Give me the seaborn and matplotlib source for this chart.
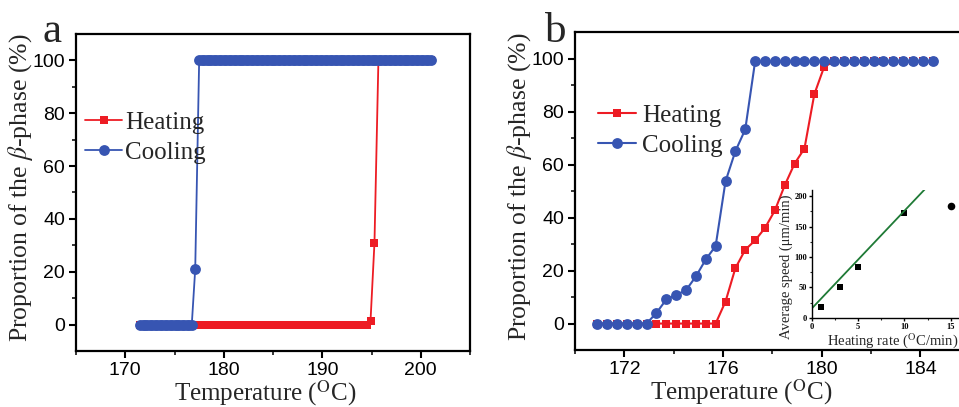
import matplotlib
matplotlib.use("Agg")
import matplotlib.pyplot as plt
import seaborn as sns

# ---- panel a: full sweep, dense sampling ----
heat_a_temp = [171.5, 171.75, 172.0, 172.25, 172.5, 172.75, 173.0, 173.25,
               173.5, 173.75, 174.0, 174.25, 174.5, 174.75, 175.0, 175.25,
               175.5, 175.75, 176.0, 176.25, 176.5, 176.75, 177.0, 177.25,
               177.5, 177.75, 178.0, 178.25, 178.5, 178.75, 179.0, 179.25,
               179.5, 179.75, 180.0, 180.25, 180.5, 180.75, 181.0, 181.25,
               181.5, 181.75, 182.0, 182.25, 182.5, 182.75, 183.0, 183.25,
               183.5, 183.75, 184.0, 184.25, 184.5, 184.75, 185.0, 185.25,
               185.5, 185.75, 186.0, 186.25, 186.5, 186.75, 187.0, 187.25,
               187.5, 187.75, 188.0, 188.25, 188.5, 188.75, 189.0, 189.25,
               189.5, 189.75, 190.0, 190.25, 190.5, 190.75, 191.0, 191.25,
               191.5, 191.75, 192.0, 192.25, 192.5, 192.75, 193.0, 193.25,
               193.5, 193.75, 194.0, 194.25, 194.5,
               194.9, 195.3, 195.7,
               196.0, 196.25, 196.5, 196.75, 197.0, 197.25, 197.5, 197.75,
               198.0, 198.25, 198.5, 198.75, 199.0, 199.25, 199.5, 199.75,
               200.0, 200.25, 200.5, 200.75, 201.0]
heat_a_pct = [0, 0, 0, 0, 0, 0, 0, 0, 0, 0,
              0, 0, 0, 0, 0, 0, 0, 0, 0, 0,
              0, 0, 0, 0, 0, 0, 0, 0, 0, 0,
              0, 0, 0, 0, 0, 0, 0, 0, 0, 0,
              0, 0, 0, 0, 0, 0, 0, 0, 0, 0,
              0, 0, 0, 0, 0, 0, 0, 0, 0, 0,
              0, 0, 0, 0, 0, 0, 0, 0, 0, 0,
              0, 0, 0, 0, 0, 0, 0, 0, 0, 0,
              0, 0, 0, 0, 0, 0, 0, 0, 0, 0,
              0, 0, 0,
              1.5, 31, 100,
              100, 100, 100, 100, 100, 100, 100, 100, 100, 100,
              100, 100, 100, 100, 100, 100, 100, 100, 100, 100,
              100]

cool_a_temp = [171.5, 171.75, 172.0, 172.25, 172.5, 172.75, 173.0, 173.25,
               173.5, 173.75, 174.0, 174.25, 174.5, 174.75, 175.0, 175.25,
               175.5, 175.75, 176.0, 176.25, 176.5, 176.75,
               177.1, 177.5,
               177.75, 178.0, 178.25, 178.5, 178.75, 179.0, 179.25, 179.5,
               179.75, 180.0, 180.25, 180.5, 180.75, 181.0, 181.25, 181.5,
               181.75, 182.0, 182.25, 182.5, 182.75, 183.0, 183.25, 183.5,
               183.75, 184.0, 184.25, 184.5, 184.75, 185.0, 185.25, 185.5,
               185.75, 186.0, 186.25, 186.5, 186.75, 187.0, 187.25, 187.5,
               187.75, 188.0, 188.25, 188.5, 188.75, 189.0, 189.25, 189.5,
               189.75, 190.0, 190.25, 190.5, 190.75, 191.0, 191.25, 191.5,
               191.75, 192.0, 192.25, 192.5, 192.75, 193.0, 193.25, 193.5,
               193.75, 194.0, 194.25, 194.5, 194.75, 195.0, 195.25, 195.5,
               195.75, 196.0, 196.25, 196.5, 196.75, 197.0, 197.25, 197.5,
               197.75, 198.0, 198.25, 198.5, 198.75, 199.0, 199.25, 199.5,
               199.75, 200.0, 200.25, 200.5, 200.75, 201.0]
cool_a_pct = [0, 0, 0, 0, 0, 0, 0, 0, 0, 0,
              0, 0, 0, 0, 0, 0, 0, 0, 0, 0,
              0, 0,
              21,
              100, 100, 100, 100, 100, 100, 100, 100, 100, 100,
              100, 100, 100, 100, 100, 100, 100, 100, 100, 100,
              100, 100, 100, 100, 100, 100, 100, 100, 100, 100,
              100, 100, 100, 100, 100, 100, 100, 100, 100, 100,
              100, 100, 100, 100, 100, 100, 100, 100, 100, 100,
              100, 100, 100, 100, 100, 100, 100, 100, 100, 100,
              100, 100, 100, 100, 100, 100, 100, 100, 100, 100,
              100, 100, 100, 100, 100, 100, 100, 100, 100, 100,
              100, 100, 100, 100, 100, 100, 100, 100, 100, 100,
              100, 100, 100, 100, 100]

# ---- panel b: slow sweep ----
temp_b = [170.9, 171.3, 171.7, 172.1, 172.5, 172.9, 173.3, 173.7, 174.1, 174.5,
          174.9, 175.3, 175.7, 176.1, 176.5, 176.9, 177.3, 177.7, 178.1, 178.5,
          178.9, 179.3, 179.7, 180.1, 180.5, 180.9, 181.3, 181.7, 182.1, 182.5,
          182.9, 183.3, 183.7, 184.1, 184.5]
heat_b_pct = [0, 0, 0, 0, 0, 0, 0, 0, 0, 0,
              0, 0, 0, 8.3, 20.9, 27.9, 31.4, 36.1, 42.7, 52.2,
              60.4, 66.1, 86.6, 97.0, 99, 99, 99, 99, 99, 99,
              99, 99, 99, 99, 99]
cool_b_pct = [0, 0, 0, 0, 0, 0, 4.0, 9.1, 10.8, 12.6,
              17.8, 24.2, 29.3, 53.7, 65.1, 73.3, 99, 99, 99, 99,
              99, 99, 99, 99, 99, 99, 99, 99, 99, 99,
              99, 99, 99, 99, 99]

# ---- inset: growth speed vs heating rate ----
rate = [1, 3, 5, 10]
speed = [18, 50, 84, 172]
rate_out = [15]
speed_out = [184]
fit_rate = [0, 13]
fit_speed = [15, 224]

RED = "#ED1C24"
BLUE = "#3755B2"
GREEN = "#1F7A36"

sns.set_theme(style="ticks")
plt.rcParams["font.family"] = ["Liberation Sans", "DejaVu Sans"]
plt.rcParams["mathtext.fontset"] = "stix"
SERIF = ["Liberation Serif", "DejaVu Serif"]

fig = plt.figure(figsize=(9.59, 4.07), dpi=100)
ax_a = fig.add_axes([0.0793, 0.1376, 0.4108, 0.7789])
ax_b = fig.add_axes([0.5996, 0.1400, 0.4116, 0.7806])


def style_main(ax):
    for s in ax.spines.values():
        s.set_linewidth(1.6)
        s.set_color("black")
    ax.tick_params(axis="both", which="major", direction="out", length=5, width=1.5,
                   labelsize=14, colors="black", pad=3)
    ax.tick_params(axis="both", which="minor", direction="out", length=3, width=1.3)
    ax.tick_params(top=False, right=False, which="both")
    ax.set_ylim(-10, 110)
    ax.set_yticks([0, 20, 40, 60, 80, 100])
    ax.set_yticks([10, 30, 50, 70, 90], minor=True)
    ax.set_ylabel(r"Proportion of the $\beta$-phase (%)", family=SERIF, fontsize=18.5)
    ax.set_xlabel(r"Temperature ($^{\rm O}$C)", family=SERIF, fontsize=18, va="top")
    ax.yaxis.set_label_coords(-0.105, 0.515)


# panel a
sns.lineplot(x=heat_a_temp, y=heat_a_pct, ax=ax_a, color=RED, marker="s", markersize=6,
             markeredgewidth=0, linewidth=1.3, label="Heating")
sns.lineplot(x=cool_a_temp, y=cool_a_pct, ax=ax_a, color=BLUE, marker="o", markersize=7.8,
             markeredgewidth=0, linewidth=1.3, label="Cooling")
style_main(ax_a)
ax_a.set_xlim(165, 205)
ax_a.set_xticks([170, 180, 190, 200])
ax_a.set_xticks([165, 175, 185, 195, 205], minor=True)
ax_a.xaxis.set_label_coords(0.48, -0.085)
ax_a.legend(loc="upper left", bbox_to_anchor=(0.0886, 0.726), bbox_transform=fig.transFigure,
            frameon=False, prop={"family": SERIF, "size": 18}, handlelength=1.5,
            handletextpad=0.1, labelspacing=0.28, borderpad=0, borderaxespad=0)

# panel b
sns.lineplot(x=temp_b, y=heat_b_pct, ax=ax_b, color=RED, marker="s", markersize=6.2,
             markeredgewidth=0, linewidth=1.5, label="Heating")
sns.lineplot(x=temp_b, y=cool_b_pct, ax=ax_b, color=BLUE, marker="o", markersize=7.8,
             markeredgewidth=0, linewidth=1.5, label="Cooling")
style_main(ax_b)
ax_b.set_xlim(170, 186)
ax_b.set_xticks([172, 176, 180, 184])
ax_b.set_xticks([170, 174, 178, 182, 186], minor=True)
ax_b.xaxis.set_label_coords(0.42, -0.085)
ax_b.legend(loc="upper left", bbox_to_anchor=(0.6236, 0.743), bbox_transform=fig.transFigure,
            frameon=False, prop={"family": SERIF, "size": 18}, handlelength=1.5,
            handletextpad=0.25, labelspacing=0.28, borderpad=0, borderaxespad=0)

# inset
ins = fig.add_axes([0.8464, 0.2194, 0.1643, 0.3137])
ins.set_facecolor("none")
sns.lineplot(x=fit_rate, y=fit_speed, ax=ins, color=GREEN, linewidth=1.3)
sns.scatterplot(x=rate, y=speed, ax=ins, color="black", marker="s", s=22, linewidth=0)
sns.scatterplot(x=rate_out, y=speed_out, ax=ins, color="black", marker="o", s=30, linewidth=0)
ins.set_xlim(0, 17)
ins.set_ylim(0, 210)
ins.set_xticks([0, 5, 10, 15])
ins.set_xticks([2.5, 7.5, 12.5], minor=True)
ins.set_yticks([0, 50, 100, 150, 200])
ins.set_yticks([25, 75, 125, 175], minor=True)
ins.spines["top"].set_visible(False)
ins.spines["right"].set_visible(False)
for s in ("left", "bottom"):
    ins.spines[s].set_linewidth(1.0)
    ins.spines[s].set_color("black")
ins.tick_params(axis="both", which="major", direction="out", length=2.5, width=1,
                labelsize=6, pad=1, colors="black")
ins.tick_params(axis="both", which="minor", direction="out", length=1.5, width=0.8)
for lab in ins.get_xticklabels() + ins.get_yticklabels():
    lab.set_family(SERIF)
    lab.set_fontweight("bold")
ins.set_ylabel("Average speed (μm/min)", family=SERIF, fontsize=10.5)
ins.yaxis.set_label_coords(-0.12, 0.40)
ins.set_xlabel("Heating rate ($^{\\rm O}$C/min)", family=SERIF, fontsize=10.5, ha="left", va="top")
ins.xaxis.set_label_coords(0.095, -0.105)

# panel letters
fig.text(43 / 959, 1 - 42 / 407, "a", family=SERIF, fontsize=31, va="baseline")
fig.text(545 / 959, 1 - 42 / 407, "b", family=SERIF, fontsize=31, va="baseline")

fig.savefig("out.png", dpi=100)
